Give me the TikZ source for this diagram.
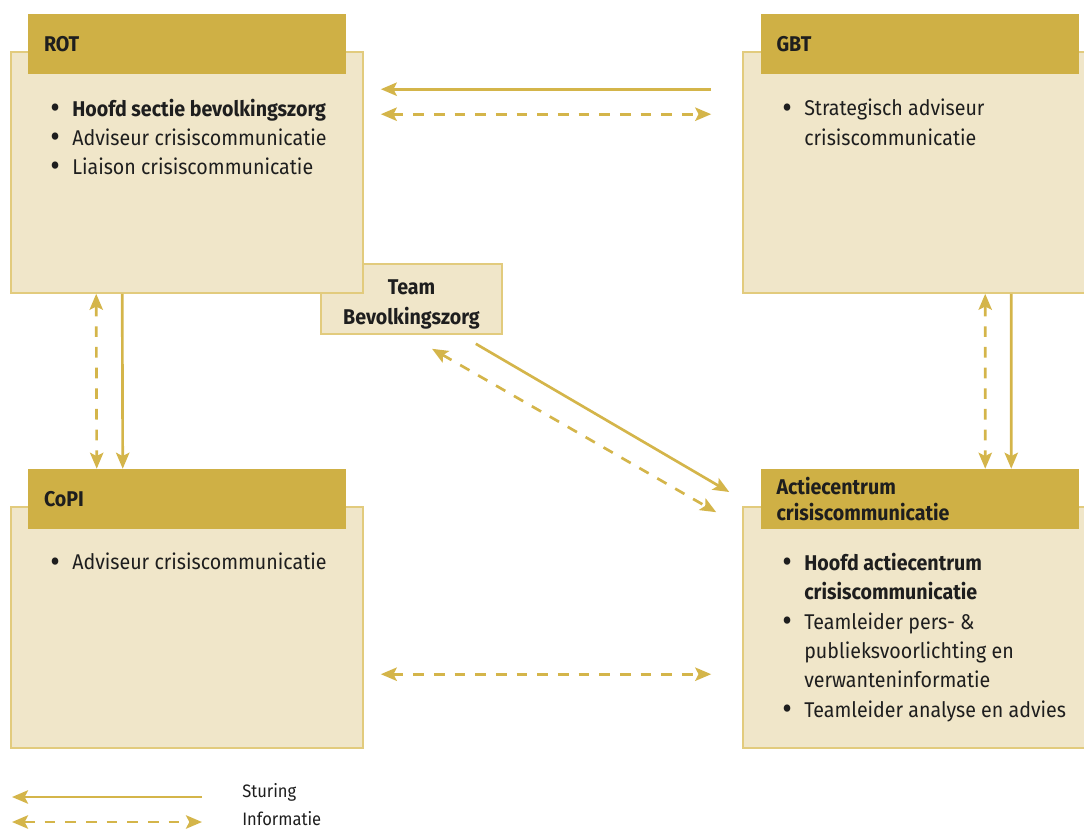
\documentclass[tikz,border=0pt]{standalone}
\usepackage{fontspec}
\usepackage{graphicx}
\setmainfont{Fira Sans}[FakeStretch=0.92]
\usetikzlibrary{calc,arrows.meta,positioning}
\definecolor{crisGold}{RGB}{207,176,69}
\definecolor{crisLine}{RGB}{212,181,74}
\definecolor{crisFill}{RGB}{240,230,201}
\definecolor{crisBorder}{RGB}{226,203,125}
\definecolor{crisText}{RGB}{30,30,30}
\newcommand{\bul}{\makebox[16.5pt][l]{\raisebox{-0.1em}{\scalebox{1.5}{\textbullet}}}}
\newcommand{\ind}{\hspace*{16.5pt}}

\begin{document}
\begin{tikzpicture}[x=0.75pt,y=-0.75pt,
  crisbox/.style={draw=crisBorder, fill=crisFill, line width=1.2pt, minimum width=264pt, minimum height=180.75pt, inner sep=0pt},
  tab/.style={fill=crisGold, text=crisText, minimum height=45pt, text width=214.5pt, inner xsep=12pt, inner ysep=0pt, align=left, font=\fontsize{16}{19}\selectfont\bfseries},
  teambox/.style={draw=crisBorder, fill=crisFill, line width=1.2pt, minimum width=135.75pt, minimum height=52.5pt, inner sep=0pt, align=center, text=crisText, font=\fontsize{16}{22.5}\selectfont\bfseries},
  itemlist/.style={anchor=north west, inner sep=0pt, align=left, text=crisText, font=\fontsize{16}{22}\selectfont},
  legendtext/.style={anchor=west, inner sep=0pt, text=crisText, font=\fontsize{13.5}{15}\selectfont},
  sturing/.style={draw=crisLine, line width=2pt, -{Stealth[length=12pt,width=10pt,inset=2.5pt]}},
  info/.style={draw=crisLine, line width=2pt, dash pattern=on 8pt off 7.5pt, {Stealth[length=12pt,width=10pt,inset=2.5pt]}-{Stealth[length=12pt,width=10pt,inset=2.5pt]}}]
\useasboundingbox (0,0) rectangle (1084,830);

% boxes
\node[teambox] (team) at (411.5,299) {\rule{0pt}{19pt}Team\\Bevolkingszorg};
\node[crisbox] (rot) at (187,172.5) {};
\node[crisbox] (gbt) at (919,172.5) {};
\node[crisbox] (copi) at (187,627.5) {};
\node[crisbox] (actie) at (919,627.5) {};

% headers
\node[tab] (roth) at (187,44) {ROT};
\node[tab] (gbth) at (919.5,44) {GBT};
\node[tab] (copih) at (187,499) {CoPI};
\node[tab] (actieh) at (919.5,499) {Actiecentrum\\crisiscommunicatie};

% contents
\node[itemlist] (rotlist) at (50,98.5) {\bul\textbf{Hoofd sectie bevolkingszorg}\\
  \bul Adviseur crisiscommunicatie\\
  \bul Liaison crisiscommunicatie};
\node[itemlist] (gbtlist) at (782,99) {\bul Strategisch adviseur\\
  \ind crisiscommunicatie};
\node[itemlist] (copilist) at (50,553) {\bul Adviseur crisiscommunicatie};
\node[itemlist] (actielist) at (782,553) {\bul\textbf{Hoofd actiecentrum}\\
  \ind\textbf{crisiscommunicatie}\\
  \bul Teamleider pers- \&\\
  \ind publieksvoorlichting en\\
  \ind verwanteninformatie\\
  \bul Teamleider analyse en advies};

% connectors
\draw[sturing] ($(gbt.north west)+(-31,38)$) -- ($(rot.north east)+(17,38)$);
\draw[info] ($(rot.north east)+(17,63)$) -- ($(gbt.north west)+(-31,63)$);
\draw[sturing] ($(rot.south west)+(112,0)$) -- ($(copih.north west)+(95,0)$);
\draw[info] ($(rot.south west)+(86,0)$) -- ($(copih.north west)+(69,0)$);
\draw[sturing] ($(gbt.south west)+(269,0)$) -- ($(actieh.north west)+(251,0)$);
\draw[info] ($(gbt.south west)+(243,0)$) -- ($(actieh.north west)+(225,0)$);
\draw[sturing] ($(team.south east)+(-27,9)$) -- ($(actieh.west)+(-31,-7)$);
\draw[info] ($(team.south)+(20.5,14)$) -- ($(actie.north west)+(-26,6)$);
\draw[info] ($(copi.north east)+(17,168)$) -- ($(actie.north west)+(-31,168)$);

% legend
\node[legendtext] (sturingtxt) at (242,792.5) {Sturing};
\node[legendtext] (infotxt) at (242,819) {Informatie};
\coordinate (stA) at (12,797);
\coordinate (stB) at (202,797);
\coordinate (inA) at (12,822);
\coordinate (inB) at (202,822);
\draw[sturing] (stB) -- (stA);
\draw[info] (inA) -- (inB);
\end{tikzpicture}
\end{document}
